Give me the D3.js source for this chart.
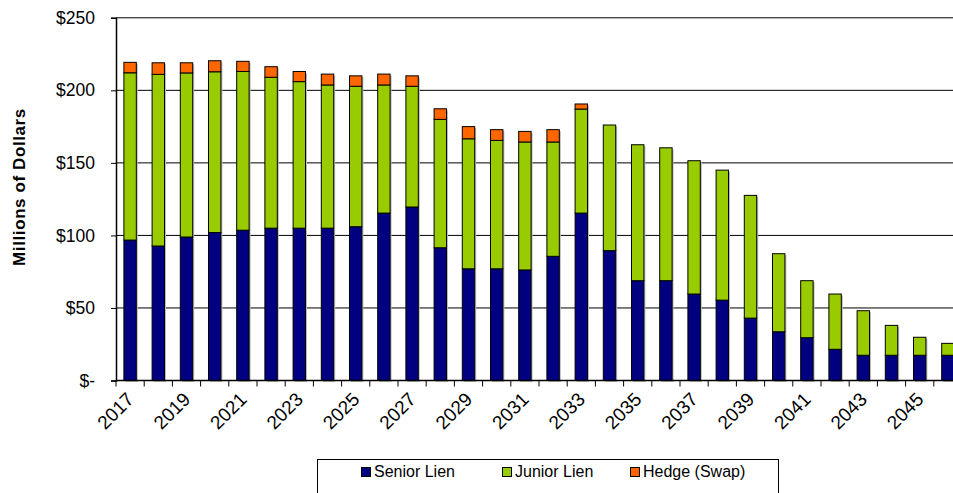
<!DOCTYPE html>
<html><head><meta charset="utf-8">
<script src="https://cdn.jsdelivr.net/npm/d3@7"></script>
<style>body{margin:0;background:#fff;}svg{display:block;font-family:"Liberation Sans",Arial,sans-serif;}</style>
</head><body>
<svg id="c" width="953" height="493"></svg>
<script>
const years = d3.range(2017, 2047).map(String);
const senior = [96.8,92.7,98.9,102,103.6,105,105,105,106,115.4,119.6,91.5,77,77,76.2,85.6,115.4,89.5,68.8,68.8,59.6,55.4,43,33.6,29.5,21.5,17.4,17.4,17.4,17.4];
const junior = [115.3,118.3,113.1,110.8,109.4,104,101,98.7,96.8,88.3,83.2,88.5,89.6,88.5,88.2,78.8,71.7,86.6,93.7,91.6,91.9,89.6,84.6,53.8,39.3,38.1,30.7,20.6,12.4,8.2];
const hedge  = [7.2,8,7,7.6,7,7.3,7,7.5,7.2,7.5,7.2,7.3,8.4,7.4,7.3,8.5,3.5,0,0,0,0,0,0,0,0,0,0,0,0,0];
const yTicks = [0,50,100,150,200,250];
const seriesNames = ["Senior Lien","Junior Lien","Hedge (Swap)"];
const colors = ["#000080","#99CC00","#FF6600"];

const svg = d3.select("#c");
const x = d3.scaleBand().domain(years).range([116, 962]).paddingInner(0.56).paddingOuter(0.28);
const y = d3.scaleLinear().domain([0,250]).range([380.5, 17.8]);

// gridlines
svg.append("g").selectAll("line").data(yTicks.filter(d=>d>0)).join("line")
  .attr("x1",116).attr("x2",953).attr("y1",d=>y(d)).attr("y2",d=>y(d))
  .attr("stroke","#000").attr("stroke-width",1);

// stacked data
const rows = years.map((yr,i)=>({year:yr, s0:senior[i], s1:junior[i], s2:hedge[i]}));
const stack = d3.stack().keys(["s0","s1","s2"])(rows);
const bw = x.bandwidth();
stack.forEach((layer,k)=>{
  svg.append("g").selectAll("rect").data(layer.filter(d=>d[1]-d[0]>0)).join("rect")
    .attr("x",d=>x(d.data.year)+1.5).attr("y",d=>y(d[1])+1.5)
    .attr("width",bw).attr("height",d=>y(d[0])-y(d[1]))
    .attr("fill","#bbb");
});
stack.forEach((layer,k)=>{
  svg.append("g").selectAll("rect").data(layer.filter(d=>d[1]-d[0]>0)).join("rect")
    .attr("x",d=>x(d.data.year)).attr("y",d=>y(d[1]))
    .attr("width",bw).attr("height",d=>y(d[0])-y(d[1]))
    .attr("fill",colors[k]).attr("stroke","#000").attr("stroke-width",1);
});

// y axis
const yAxis = d3.axisLeft(y).tickValues(yTicks).tickSize(5).tickPadding(16)
  .tickFormat(d=> d===0 ? "$-" : "$"+d);
const ya = svg.append("g").attr("transform","translate(116,0)").call(yAxis);
ya.select(".domain").attr("stroke","#000").attr("stroke-width",1.5);
ya.selectAll(".tick line").attr("stroke","#000");
ya.selectAll("text").attr("font-size","17.5px").attr("fill","#000").attr("font-family","Liberation Sans, Arial, sans-serif");

// x axis
const xa = svg.append("g");
xa.append("line").attr("x1",116).attr("x2",953).attr("y1",y(0)).attr("y2",y(0)).attr("stroke","#000").attr("stroke-width",1.5);
const step = x.step();
const bounds = years.map((yr,i)=> x(yr) - x.paddingInner()*step/2 );
xa.selectAll("line.t").data(bounds).join("line")
  .attr("x1",d=>d).attr("x2",d=>d).attr("y1",y(0)).attr("y2",y(0)+6)
  .attr("stroke","#000").attr("stroke-width",1);
xa.selectAll("text").data(years.filter((d,i)=>i%2===0)).join("text")
  .attr("transform",d=>`translate(${x(d)+bw/2+5},${y(0)+20}) rotate(-45)`)
  .attr("text-anchor","end").attr("font-size","19px").attr("fill","#000")
  .text(d=>d);

// y title
svg.append("text").attr("transform","translate(25,187) rotate(-90)")
  .attr("text-anchor","middle").attr("font-size","17px").attr("font-weight","bold")
  .attr("letter-spacing","0.6px").text("Millions of Dollars");

// legend
const lg = svg.append("g");
lg.append("rect").attr("x",317.5).attr("y",459.5).attr("width",461).attr("height",40)
  .attr("fill","#fff").attr("stroke","#000").attr("stroke-width",1);
const lx = [361, 502, 630];
seriesNames.forEach((n,i)=>{
  lg.append("rect").attr("x",lx[i]+0.5).attr("y",467.5).attr("width",9).attr("height",9)
    .attr("fill",colors[i]).attr("stroke","#000").attr("stroke-width",1);
  lg.append("text").attr("x",lx[i]+13).attr("y",477).attr("font-size","16px").attr("fill","#000").text(n);
});
</script>
</body></html>
